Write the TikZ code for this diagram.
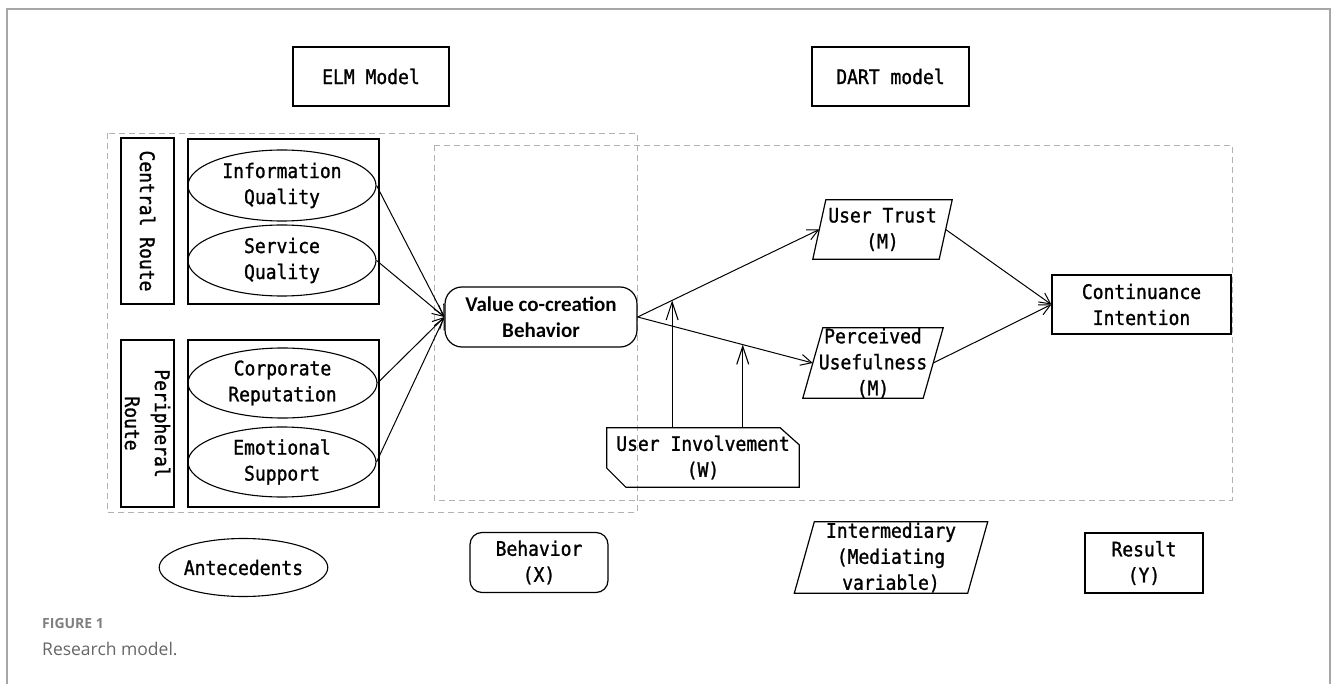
\documentclass[tikz,border=0pt]{standalone}
\usepackage{fontspec}
\setmainfont{DejaVu Sans Mono}[FakeStretch=0.9,FakeBold=1.2]
\newfontfamily\calib{Carlito}
\newfontfamily\capfont{Open Sans}
\usetikzlibrary{arrows.meta,shapes.geometric,calc}
\tikzset{
  box/.style={draw, line width=1.2pt, inner sep=0pt, align=center},
  plain/.style={inner sep=0pt, align=center},
  ell/.style={draw, ellipse, line width=1.1pt, inner sep=0pt, align=center},
  rbox/.style={draw, rounded corners=17pt, line width=1.2pt, inner sep=0pt, align=center},
  dashbox/.style={draw=black!30, line width=0.9pt, dash pattern=on 6pt off 4pt},
  arr/.style={line width=1pt, -{Straight Barb[length=11pt,width=11pt]}},
  varr/.style={line width=1.1pt, -{Straight Barb[length=18pt,width=12pt]}},
  para/.style={line width=1.2pt},
}
\begin{document}
\begin{tikzpicture}[x=1pt,y=-1pt,font=\fontsize{20}{26}\selectfont]
\useasboundingbox (0,0) rectangle (1331,684);
% outer frame
\draw[black!35, line width=1.5pt] (7,684) -- (7,9) -- (1330,9) -- (1330,684);
% model title boxes
\node[box, minimum width=156pt, minimum height=59pt] (elm) at (371,76.5) {ELM Model};
\node[box, minimum width=157pt, minimum height=59pt] (dart) at (890.5,76.5) {DART model};
% dashed groups
\draw[dashbox] (107,133) rectangle (637,512);
\draw[dashbox] (434,145) rectangle (1232,500);
% route boxes
\node[box, rotate=-90, minimum width=166pt, minimum height=53pt] (cr) at (147.5,221) {Central Route};
\node[box, rotate=-90, minimum width=167pt, minimum height=53pt, font=\fontsize{20}{30}\selectfont] (pr) at (147.5,423.5) {Peripheral\\Route};
% containers
\node[box, minimum width=191pt, minimum height=165pt] (g1) at (283.5,221.5) {};
\node[box, minimum width=191pt, minimum height=167pt] (g2) at (283.5,423.5) {};
% ellipses
\node[ell, minimum width=188pt, minimum height=71pt] (iq) at (282,185.5) {Information\\Quality};
\node[ell, minimum width=188pt, minimum height=71pt] (sq) at (282,260.5) {Service\\Quality};
\node[ell, minimum width=189pt, minimum height=70pt] (cp) at (282.5,383) {Corporate\\Reputation};
\node[ell, minimum width=188pt, minimum height=70pt] (es) at (282,462) {Emotional\\Support};
% behaviour
\node[rbox, minimum width=192pt, minimum height=60pt, font=\calib\bfseries\fontsize{21}{26}\selectfont] (vb) at (541,317) {Value co-creation\\Behavior};
% mediators
\node[plain, minimum width=139pt, minimum height=59pt] (ut) at (882.5,229.5) {User Trust\\(M)};
\draw[para] ([xshift=13pt]ut.north west) -- (ut.north east) -- ([xshift=-13pt]ut.south east) -- (ut.south west) -- cycle;
\node[plain, minimum width=140pt, minimum height=70pt] (pu) at (873,363) {Perceived\\Usefulness\\(M)};
\draw[para] ([xshift=20pt]pu.north west) -- (pu.north east) -- ([xshift=-20pt]pu.south east) -- (pu.south west) -- cycle;
% result
\node[box, minimum width=179pt, minimum height=59pt] (ci) at (1141.5,304.5) {Continuance\\Intention};
% moderator
\node[plain, minimum width=192pt, minimum height=59pt] (ui) at (703,457.5) {User Involvement\\(W)};
\draw[para] (ui.north west) -- ([xshift=-19pt]ui.north east) -- ([yshift=-17pt]ui.north east) -- (ui.south east) -- ([xshift=19pt]ui.south west) -- ([yshift=19pt]ui.south west) -- cycle;
% connectors
\draw[arr] (iq.east) -- (vb.west);
\draw[arr] (sq.east) -- (vb.west);
\draw[arr] (cp.east) -- (vb.west);
\draw[arr] (es.east) -- (vb.west);
\coordinate (utin) at ([xshift=6.5pt]ut.west);
\coordinate (puin) at ([xshift=10pt]pu.west);
\draw[arr] (vb.east) -- (utin);
\draw[arr] (vb.east) -- (puin);
\draw[arr] ([xshift=-6.5pt]ut.east) -- (ci.west);
\draw[arr] ([xshift=-10pt]pu.east) -- (ci.west);
\coordinate (m1) at ($(vb.east)!0.19!(utin)$);
\coordinate (m2) at ($(vb.east)!0.6!(puin)$);
\draw[varr] (m1 |- ui.north) -- (m1);
\draw[varr] (m2 |- ui.north) -- (m2);
% legend
\node[ell, minimum width=157pt, minimum height=58pt] (ant) at (243.5,567.5) {Antecedents};
\node[box, rounded corners=12pt, minimum width=138pt, minimum height=60pt] (beh) at (539,562.5) {Behavior\\(X)};
\node[plain, minimum width=193pt, minimum height=71pt] (int) at (891,557.5) {Intermediary\\(Mediating\\variable)};
\draw[para] ([xshift=20pt]int.north west) -- (int.north east) -- ([xshift=-20pt]int.south east) -- (int.south west) -- cycle;
\node[box, minimum width=118pt, minimum height=60pt] (res) at (1144,563) {Result\\(Y)};
% caption
\node[anchor=base west, inner sep=0pt, text=black!50, font=\capfont\bfseries\fontsize{14}{16}\selectfont] (fig) at (42,628) {FIGURE 1};
\node[anchor=base west, inner sep=0pt, text=black!60, font=\capfont\fontsize{17.5}{20}\selectfont] (cap) at (42,655) {Research model.};
\end{tikzpicture}
\end{document}
